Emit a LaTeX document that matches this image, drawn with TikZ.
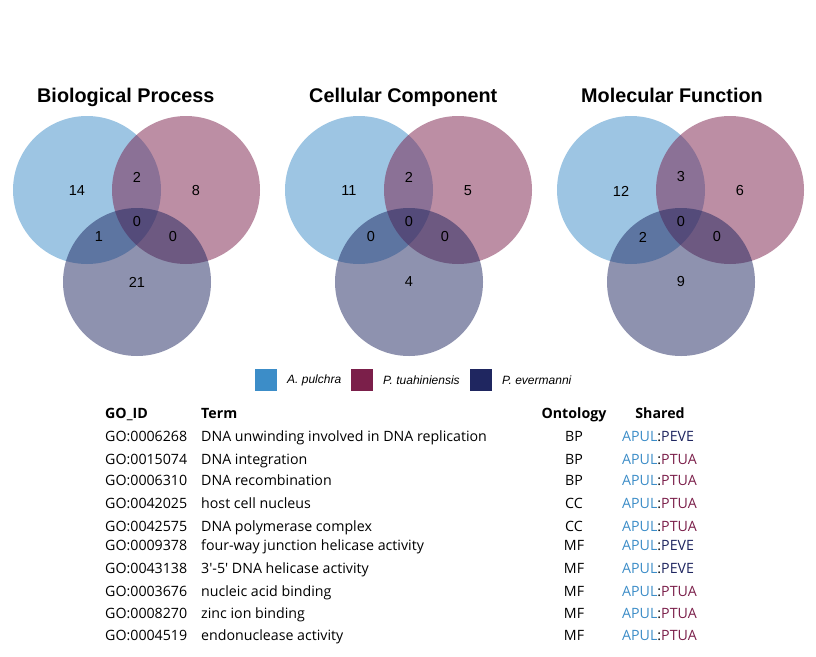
\documentclass[tikz,border=0pt]{standalone}
\usepackage{fontspec}
\setmainfont{Liberation Sans}
\newfontfamily\tabfont{Open Sans}
\definecolor{apul}{RGB}{60,141,200}
\definecolor{ptua}{RGB}{123,31,74}
\definecolor{peve}{RGB}{31,38,96}
\begin{document}
\begin{tikzpicture}[x=1pt,y=-1pt,
  vtitle/.style={font=\fontsize{19.8}{22}\selectfont\bfseries, anchor=base west, inner sep=0},
  num/.style={font=\fontsize{14.5}{16}\selectfont, inner sep=0},
  vset/.style={circle, minimum size=148pt, inner sep=0, fill opacity=0.5, draw=none},
  legbox/.style={minimum size=22pt, inner sep=0, draw=none},
  legtext/.style={font=\fontsize{12}{14}\selectfont\itshape, anchor=west, inner sep=0},
  thead/.style={font=\tabfont\fontsize{14.2}{16}\selectfont\bfseries, inner sep=0, anchor=base west},
  tcell/.style={font=\tabfont\fontsize{14.2}{16}\selectfont, inner sep=0, anchor=base west},
  tcellc/.style={font=\tabfont\fontsize{14.2}{16}\selectfont, inner sep=0, anchor=base}
]
\useasboundingbox[fill=white] (0,0) rectangle (816,656);

% Venn diagrams
\foreach \i/\t/\a/\b/\c/\ab/\ac/\bc/\abc in {
  0/Biological Process/14/8/21/2/1/0/0,
  1/Cellular Component/11/5/4/2/0/0/0,
  2/Molecular Function/12/6/9/3/2/0/0} {
  \begin{scope}[xshift=\i*272pt]
    \node[vtitle] (title\i) at (37,102) {\t};
    \node[vset, fill=apul] (A\i) at (87,190) {};
    \node[vset, fill=ptua] (B\i) at (186,190) {};
    \node[vset, fill=peve] (C\i) at (137,282) {};
    \node[num] (na\i) at (77,191) {\a};
    \node[num] (nab\i) at (137,177) {\ab};
    \node[num] (nb\i) at (196,191) {\b};
    \node[num] (nabc\i) at (137,222) {\abc};
    \node[num] (nac\i) at (99,237) {\ac};
    \node[num] (nbc\i) at (173,237) {\bc};
    \node[num] (nc\i) at (137,282) {\c};
  \end{scope}
}

% Legend
\node[legbox, fill=apul] (lgA) at (266,380) {};
\node[legtext] (ltA) at (287,380) {A. pulchra};
\node[legbox, fill=ptua] (lgB) at (362,380) {};
\node[legtext] (ltB) at (383,380) {P. tuahiniensis};
\node[legbox, fill=peve] (lgC) at (481,380) {};
\node[legtext] (ltC) at (502,380) {P. evermanni};

% Table header
\node[thead] (hid) at (105,418) {GO\_ID};
\node[thead] (hterm) at (201,418) {Term};
\node[thead, anchor=base] (hont) at (574,418) {Ontology};
\node[thead, anchor=base] (hsh) at (660,418) {Shared};

% Table rows
\foreach \k/\id/\term/\ont/\other/\ocol/\y in {
  1/GO:0006268/DNA unwinding involved in DNA replication/BP/PEVE/peve/441,
  2/GO:0015074/DNA integration/BP/PTUA/ptua/464,
  3/GO:0006310/DNA recombination/BP/PTUA/ptua/485,
  4/GO:0042025/host cell nucleus/CC/PTUA/ptua/508,
  5/GO:0042575/DNA polymerase complex/CC/PTUA/ptua/531,
  6/GO:0009378/four-way junction helicase activity/MF/PEVE/peve/550,
  7/GO:0043138/3'-5' DNA helicase activity/MF/PEVE/peve/573,
  8/GO:0003676/nucleic acid binding/MF/PTUA/ptua/596,
  9/GO:0008270/zinc ion binding/MF/PTUA/ptua/618,
  10/GO:0004519/endonuclease activity/MF/PTUA/ptua/640} {
  \node[tcell] (id\k) at (105,\y) {\id};
  \node[tcell] (term\k) at (201,\y) {\term};
  \node[tcellc] (ont\k) at (574,\y) {\ont};
  \node[tcell] (sh\k) at (622,\y) {\textcolor{apul}{APUL}:\textcolor{\ocol}{\other}};
}
\end{tikzpicture}
\end{document}
